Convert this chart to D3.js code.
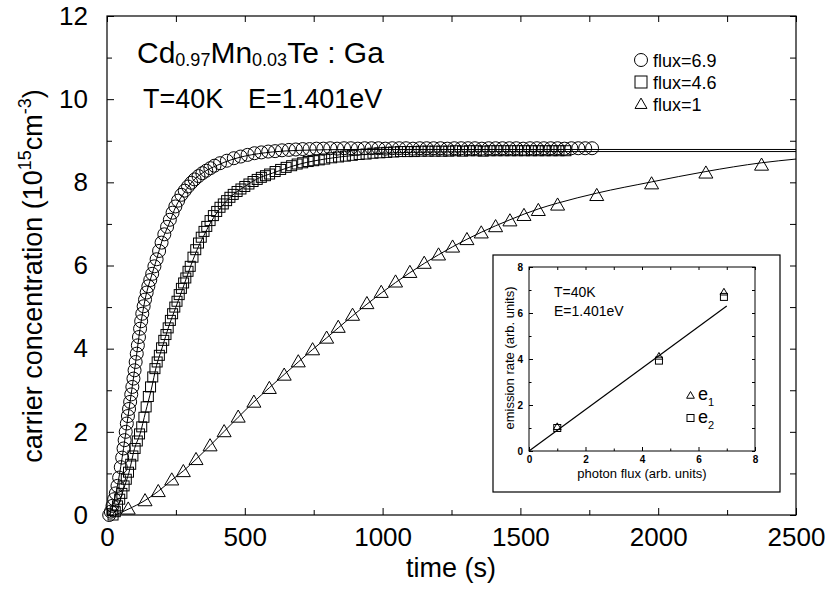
<!DOCTYPE html>
<html>
<head>
<meta charset="utf-8">
<script src="https://cdn.jsdelivr.net/npm/d3@7"></script>
<style>
body { margin: 0; background: #fff; }
svg { font-family: "Liberation Sans", Arial, Helvetica, sans-serif; }
</style>
</head>
<body>
<svg id="chart" width="825" height="590"></svg>
<script>
// flux = 6.9 (circles)
var circleTime = [8, 14, 20, 26, 32, 38, 44, 50, 55, 60, 64, 68, 72, 76, 80, 84, 88, 92, 96, 100,
    104, 108, 112, 116, 120, 124, 128, 133, 138, 144, 150, 157, 164, 172, 180, 189, 198, 208, 218, 228,
    238, 248, 258, 270, 282, 294, 306, 318, 332, 346, 360, 375, 390, 410, 435, 460, 485, 510, 535, 560,
    585, 610, 635, 660, 685, 710, 735, 760, 785, 810, 835, 860, 885, 910, 935, 960, 985, 1010, 1035, 1060,
    1085, 1110, 1135, 1160, 1185, 1210, 1235, 1260, 1285, 1310, 1335, 1360, 1385, 1410, 1435, 1460, 1485, 1510, 1535, 1560,
    1585, 1610, 1635, 1660, 1685, 1710, 1735, 1760];
var circleConc = [0.0, 0.08, 0.22, 0.38, 0.52, 0.7, 0.9, 1.15, 1.38, 1.6, 1.8, 2.0, 2.2, 2.38, 2.55, 2.72, 2.9, 3.08, 3.28, 3.48,
    3.68, 3.88, 4.08, 4.28, 4.48, 4.66, 4.84, 5.02, 5.18, 5.35, 5.5, 5.65, 5.8, 5.98, 6.15, 6.35, 6.55, 6.75, 6.93, 7.1,
    7.27, 7.42, 7.56, 7.7, 7.8, 7.9, 7.99, 8.07, 8.15, 8.22, 8.28, 8.34, 8.4, 8.46, 8.52, 8.58, 8.62, 8.66, 8.7, 8.72,
    8.74, 8.75, 8.77, 8.78, 8.79, 8.8, 8.8, 8.81, 8.81, 8.82, 8.81, 8.82, 8.82, 8.81, 8.82, 8.82, 8.82, 8.81, 8.82, 8.82,
    8.82, 8.81, 8.82, 8.82, 8.82, 8.82, 8.81, 8.82, 8.82, 8.82, 8.82, 8.81, 8.82, 8.82, 8.82, 8.82, 8.82, 8.81, 8.82, 8.82,
    8.82, 8.82, 8.82, 8.81, 8.82, 8.82, 8.82, 8.82];

// flux = 4.6 (squares)
var squareTime = [22, 30, 38, 46, 54, 62, 70, 78, 86, 94, 102, 110, 118, 126, 134, 142, 150, 158, 166, 174,
    182, 190, 198, 206, 214, 222, 230, 238, 246, 254, 262, 270, 278, 286, 294, 302, 312, 322, 332, 342,
    352, 362, 374, 386, 398, 410, 422, 434, 446, 458, 472, 486, 500, 515, 530, 545, 560, 575, 590, 610,
    630, 650, 670, 690, 710, 730, 750, 770, 790, 815, 840, 865, 890, 915, 940, 965, 990, 1015, 1040, 1065,
    1090, 1115, 1140, 1165, 1190, 1215, 1240, 1265, 1290, 1315, 1340, 1365, 1390, 1415, 1440, 1465, 1490, 1515, 1540, 1565,
    1590, 1615, 1640, 1665];
var squareConc = [0.0, 0.08, 0.22, 0.38, 0.52, 0.7, 0.86, 1.03, 1.22, 1.42, 1.6, 1.78, 1.95, 2.12, 2.35, 2.6, 2.85, 3.08, 3.32, 3.52,
    3.68, 3.84, 4.02, 4.2, 4.34, 4.5, 4.68, 4.84, 5.0, 5.14, 5.3, 5.45, 5.58, 5.7, 5.86, 5.98, 6.2, 6.38, 6.54, 6.68,
    6.82, 6.94, 7.08, 7.2, 7.3, 7.4, 7.48, 7.56, 7.64, 7.71, 7.78, 7.84, 7.9, 7.96, 8.02, 8.07, 8.12, 8.16, 8.2, 8.26,
    8.31, 8.36, 8.4, 8.44, 8.47, 8.5, 8.52, 8.54, 8.56, 8.59, 8.61, 8.63, 8.65, 8.67, 8.68, 8.7, 8.71, 8.72, 8.73, 8.74,
    8.74, 8.74, 8.75, 8.75, 8.75, 8.75, 8.75, 8.76, 8.75, 8.76, 8.76, 8.75, 8.76, 8.76, 8.76, 8.76, 8.76, 8.76, 8.76, 8.76,
    8.76, 8.76, 8.76, 8.76];

// flux = 1 (triangles)
var triangleTime = [77, 138, 186, 235, 277, 323, 374, 425, 476, 533, 589, 643, 694, 746, 797, 839, 891, 943, 995, 1047,
    1099, 1151, 1203, 1254, 1306, 1358, 1410, 1462, 1513, 1565, 1635, 1777, 1976, 2173, 2375];
var triangleConc = [0.12, 0.32, 0.54, 0.82, 1.02, 1.31, 1.64, 1.98, 2.33, 2.69, 3.02, 3.34, 3.66, 3.95, 4.23, 4.49, 4.78, 5.06, 5.33, 5.58,
    5.81, 6.03, 6.23, 6.42, 6.6, 6.76, 6.91, 7.05, 7.18, 7.3, 7.43, 7.66, 7.94, 8.2, 8.39];

// fitted curves
var fitCircleTime = [8, 20, 40, 60, 80, 100, 120, 140, 160, 180, 200, 225, 250, 280, 310, 350, 400, 450, 500, 550, 600, 700, 900, 2500];
var fitCircleConc = [0, 0.2, 0.78, 1.6, 2.55, 3.48, 4.48, 5.24, 5.72, 6.15, 6.6, 7.0, 7.42, 7.75, 8.02, 8.24, 8.41, 8.54, 8.63, 8.69, 8.73, 8.77, 8.79, 8.79];
var fitSquareTime = [20, 40, 60, 80, 100, 120, 140, 160, 180, 200, 225, 250, 275, 300, 325, 350, 375, 400, 450, 500, 550, 600, 700, 800, 900, 1000, 1200, 1500, 2500];
var fitSquareConc = [0, 0.22, 0.62, 1.03, 1.6, 1.95, 2.48, 3.0, 3.6, 4.02, 4.55, 5.0, 5.45, 5.92, 6.35, 6.7, 7.02, 7.28, 7.66, 7.9, 8.1, 8.22, 8.44, 8.57, 8.65, 8.7, 8.73, 8.74, 8.74];
var fitTriangleTime = [30, 77, 138, 186, 235, 277, 323, 374, 425, 476, 533, 589, 643, 694, 746, 797, 839, 943, 1047, 1151, 1254, 1358, 1462, 1565, 1635, 1777, 1976, 2173, 2375, 2500];
var fitTriangleConc = [0, 0.14, 0.35, 0.57, 0.84, 1.06, 1.34, 1.67, 2.01, 2.35, 2.72, 3.06, 3.38, 3.68, 3.98, 4.26, 4.5, 5.07, 5.59, 6.05, 6.45, 6.8, 7.1, 7.36, 7.5, 7.74, 8.01, 8.26, 8.47, 8.56];

var xTicks = [0, 500, 1000, 1500, 2000, 2500];
var xMinor = [250, 750, 1250, 1750, 2250];
var yTicks = [0, 2, 4, 6, 8, 10, 12];
var yMinor = [1, 3, 5, 7, 9, 11];
var legendLabels = ["flux=6.9", "flux=4.6", "flux=1"];

// inset: emission rate vs photon flux
var insetFlux = [1, 4.6, 6.9];
var insetE1 = [1.03, 4.09, 6.88];
var insetE2 = [1.0, 3.93, 6.7];
var insetFitFlux = [0, 7.0];
var insetFitRate = [0, 6.3];
var insetTicks = [0, 2, 4, 6, 8];
var insetMinor = [1, 3, 5, 7];

var svg = d3.select("#chart");
var plotL = 107, plotR = 796, plotT = 16, plotB = 515;

var x = d3.scaleLinear().domain([0, 2500]).range([plotL, plotR]);
var y = d3.scaleLinear().domain([0, 12]).range([plotB, plotT]);
var fmt = d3.format("d");

function zip(a, b) { return a.map(function (d, i) { return [d, b[i]]; }); }

function style_axis(g, size) {
    g.select(".domain").remove();
    g.selectAll(".tick line").attr("stroke", "#000").attr("stroke-width", 1);
    g.selectAll(".tick text").attr("fill", "#000").style("font-size", size + "px")
        .style("font-family", "'Liberation Sans', Arial, sans-serif");
}

svg.append("g").attr("transform", "translate(0," + plotB + ")")
    .call(d3.axisBottom(x).tickValues(xTicks).tickFormat(fmt).tickSizeInner(-7).tickSizeOuter(0).tickPadding(13))
    .call(style_axis, 26);
svg.append("g").attr("transform", "translate(0," + plotB + ")")
    .call(d3.axisBottom(x).tickValues(xMinor).tickSizeInner(-5).tickSizeOuter(0).tickFormat(""))
    .call(style_axis, 10);
svg.append("g").attr("transform", "translate(0," + plotT + ")")
    .call(d3.axisTop(x).tickValues(xTicks.concat(xMinor)).tickSizeInner(-6).tickSizeOuter(0).tickFormat(""))
    .call(style_axis, 10);

svg.append("g").attr("transform", "translate(" + plotL + ",0)")
    .call(d3.axisLeft(y).tickValues(yTicks).tickFormat(fmt).tickSizeInner(-7).tickSizeOuter(0).tickPadding(19))
    .call(style_axis, 26);
svg.append("g").attr("transform", "translate(" + plotL + ",0)")
    .call(d3.axisLeft(y).tickValues(yMinor).tickSizeInner(-5).tickSizeOuter(0).tickFormat(""))
    .call(style_axis, 10);
svg.append("g").attr("transform", "translate(" + plotR + ",0)")
    .call(d3.axisRight(y).tickValues(yTicks.concat(yMinor)).tickSizeInner(-6).tickSizeOuter(0).tickFormat(""))
    .call(style_axis, 10);

svg.append("rect")
    .attr("x", plotL).attr("y", plotT)
    .attr("width", plotR - plotL).attr("height", plotB - plotT)
    .attr("fill", "none").attr("stroke", "#000").attr("stroke-width", 1.2);

// axis titles
svg.append("text")
    .attr("x", 451).attr("y", 577)
    .attr("text-anchor", "middle")
    .style("font-size", "27px")
    .text("time (s)");

var ylab = svg.append("text")
    .attr("transform", "rotate(-90)")
    .attr("x", -276).attr("y", 42)
    .attr("text-anchor", "middle")
    .style("font-size", "27px");
ylab.append("tspan").text("carrier concentration (10");
ylab.append("tspan").attr("dy", -11).style("font-size", "18px").text("15");
ylab.append("tspan").attr("dy", 11).text("cm");
ylab.append("tspan").attr("dy", -11).style("font-size", "18px").text("-3");
ylab.append("tspan").attr("dy", 11).text(")");

// fits
var line = d3.line()
    .x(function (d) { return x(d[0]); })
    .y(function (d) { return y(d[1]); })
    .curve(d3.curveMonotoneX);

[[fitCircleTime, fitCircleConc], [fitSquareTime, fitSquareConc], [fitTriangleTime, fitTriangleConc]]
    .forEach(function (f) {
        svg.append("path")
            .datum(zip(f[0], f[1]))
            .attr("d", line)
            .attr("fill", "none")
            .attr("stroke", "#000")
            .attr("stroke-width", 1);
    });

// markers
var marks = svg.append("g").attr("fill", "none").attr("stroke", "#000").attr("stroke-width", 1);

marks.selectAll(".c").data(zip(circleTime, circleConc)).enter()
    .append("circle").attr("class", "c")
    .attr("cx", function (d) { return x(d[0]); })
    .attr("cy", function (d) { return y(d[1]); })
    .attr("r", 6.5);

marks.selectAll(".s").data(zip(squareTime, squareConc)).enter()
    .append("rect").attr("class", "s")
    .attr("x", function (d) { return x(d[0]) - 5; })
    .attr("y", function (d) { return y(d[1]) - 5; })
    .attr("width", 10).attr("height", 10);

var tri = d3.symbol().type(d3.symbolTriangle).size(85);
marks.selectAll(".t").data(zip(triangleTime, triangleConc)).enter()
    .append("path").attr("class", "t")
    .attr("transform", function (d) { return "translate(" + x(d[0]) + "," + y(d[1]) + ")"; })
    .attr("d", tri);

// title
var title = svg.append("text").attr("x", 137).attr("y", 63).style("font-size", "30px");
title.append("tspan").text("Cd");
title.append("tspan").attr("dy", 3).style("font-size", "18px").text("0.97");
title.append("tspan").attr("dy", -3).text("Mn");
title.append("tspan").attr("dy", 3).style("font-size", "18px").text("0.03");
title.append("tspan").attr("dy", -3).text("Te : Ga");

svg.append("text").attr("x", 143).attr("y", 108).style("font-size", "27px").text("T=40K");
svg.append("text").attr("x", 248).attr("y", 108).style("font-size", "27px").text("E=1.401eV");

// legend
var lg = svg.append("g").attr("transform", "translate(641,60)");
lg.append("circle").attr("cx", 0).attr("cy", 0).attr("r", 6.5)
    .attr("fill", "none").attr("stroke", "#000");
lg.append("rect").attr("x", -6).attr("y", 22 - 6).attr("width", 12).attr("height", 12)
    .attr("fill", "none").attr("stroke", "#000");
lg.append("path").attr("transform", "translate(0,45)").attr("d", d3.symbol().type(d3.symbolTriangle).size(62))
    .attr("fill", "none").attr("stroke", "#000");
lg.selectAll(".lt").data(legendLabels).enter()
    .append("text").attr("class", "lt")
    .attr("x", 12).attr("y", function (d, i) { return 6.5 + i * 22; })
    .style("font-size", "18px")
    .text(function (d) { return d; });

// inset
var ix0 = 529, ix1 = 755, iy0 = 451, iy1 = 267;
var ix = d3.scaleLinear().domain([0, 8]).range([ix0, ix1]);
var iy = d3.scaleLinear().domain([0, 8]).range([iy0, iy1]);
var inset = svg.append("g");

inset.append("rect").attr("x", 493).attr("y", 255).attr("width", 287).attr("height", 237)
    .attr("fill", "#fff").attr("stroke", "#000").attr("stroke-width", 1.2);

inset.append("g").attr("transform", "translate(0," + iy0 + ")")
    .call(d3.axisBottom(ix).tickValues(insetTicks).tickFormat(fmt).tickSizeInner(-4).tickSizeOuter(0).tickPadding(5))
    .call(style_axis, 10).selectAll("text").style("font-weight", "bold");
inset.append("g").attr("transform", "translate(0," + iy0 + ")")
    .call(d3.axisBottom(ix).tickValues(insetMinor).tickSizeInner(-2.5).tickSizeOuter(0).tickFormat(""))
    .call(style_axis, 10);
inset.append("g").attr("transform", "translate(0," + iy1 + ")")
    .call(d3.axisTop(ix).tickValues(insetTicks.concat(insetMinor)).tickSizeInner(-3).tickSizeOuter(0).tickFormat(""))
    .call(style_axis, 10);
inset.append("g").attr("transform", "translate(" + ix0 + ",0)")
    .call(d3.axisLeft(iy).tickValues(insetTicks).tickFormat(fmt).tickSizeInner(-4).tickSizeOuter(0).tickPadding(6))
    .call(style_axis, 10).selectAll("text").style("font-weight", "bold");
inset.append("g").attr("transform", "translate(" + ix0 + ",0)")
    .call(d3.axisLeft(iy).tickValues(insetMinor).tickSizeInner(-2.5).tickSizeOuter(0).tickFormat(""))
    .call(style_axis, 10);
inset.append("g").attr("transform", "translate(" + ix1 + ",0)")
    .call(d3.axisRight(iy).tickValues(insetTicks.concat(insetMinor)).tickSizeInner(-3).tickSizeOuter(0).tickFormat(""))
    .call(style_axis, 10);

inset.append("rect").attr("x", ix0).attr("y", iy1).attr("width", ix1 - ix0).attr("height", iy0 - iy1)
    .attr("fill", "none").attr("stroke", "#000").attr("stroke-width", 1);

inset.append("path")
    .datum(zip(insetFitFlux, insetFitRate))
    .attr("d", d3.line().x(function (d) { return ix(d[0]); }).y(function (d) { return iy(d[1]); }))
    .attr("stroke", "#000").attr("stroke-width", 1.2).attr("fill", "none");

var itri = d3.symbol().type(d3.symbolTriangle).size(26);
inset.selectAll(".it").data(zip(insetFlux, insetE1)).enter()
    .append("path").attr("class", "it")
    .attr("transform", function (d) { return "translate(" + ix(d[0]) + "," + iy(d[1]) + ")"; })
    .attr("d", itri).attr("fill", "none").attr("stroke", "#000");
inset.selectAll(".is").data(zip(insetFlux, insetE2)).enter()
    .append("rect").attr("class", "is")
    .attr("x", function (d) { return ix(d[0]) - 3.5; })
    .attr("y", function (d) { return iy(d[1]) - 3.5; })
    .attr("width", 7).attr("height", 7)
    .attr("fill", "none").attr("stroke", "#000");

inset.append("text").attr("x", 554).attr("y", 297).style("font-size", "14px").text("T=40K");
inset.append("text").attr("x", 554).attr("y", 315.5).style("font-size", "14px").text("E=1.401eV");

inset.append("text").attr("x", 642).attr("y", 478).attr("text-anchor", "middle")
    .style("font-size", "13px").text("photon flux (arb. units)");
inset.append("text").attr("transform", "rotate(-90)")
    .attr("x", -358).attr("y", 514).attr("text-anchor", "middle")
    .style("font-size", "13px").text("emission rate (arb. units)");

// inset legend
inset.append("path").attr("transform", "translate(690.5,396)").attr("d", itri)
    .attr("fill", "none").attr("stroke", "#000");
inset.append("rect").attr("x", 687).attr("y", 414.5).attr("width", 7).attr("height", 7)
    .attr("fill", "none").attr("stroke", "#000");
var e1 = inset.append("text").attr("x", 698).attr("y", 400).style("font-size", "18px");
e1.append("tspan").text("e");
e1.append("tspan").attr("dy", 6).style("font-size", "11px").text("1");
var e2 = inset.append("text").attr("x", 698).attr("y", 423).style("font-size", "18px");
e2.append("tspan").text("e");
e2.append("tspan").attr("dy", 6).style("font-size", "11px").text("2");
</script>
</body>
</html>
